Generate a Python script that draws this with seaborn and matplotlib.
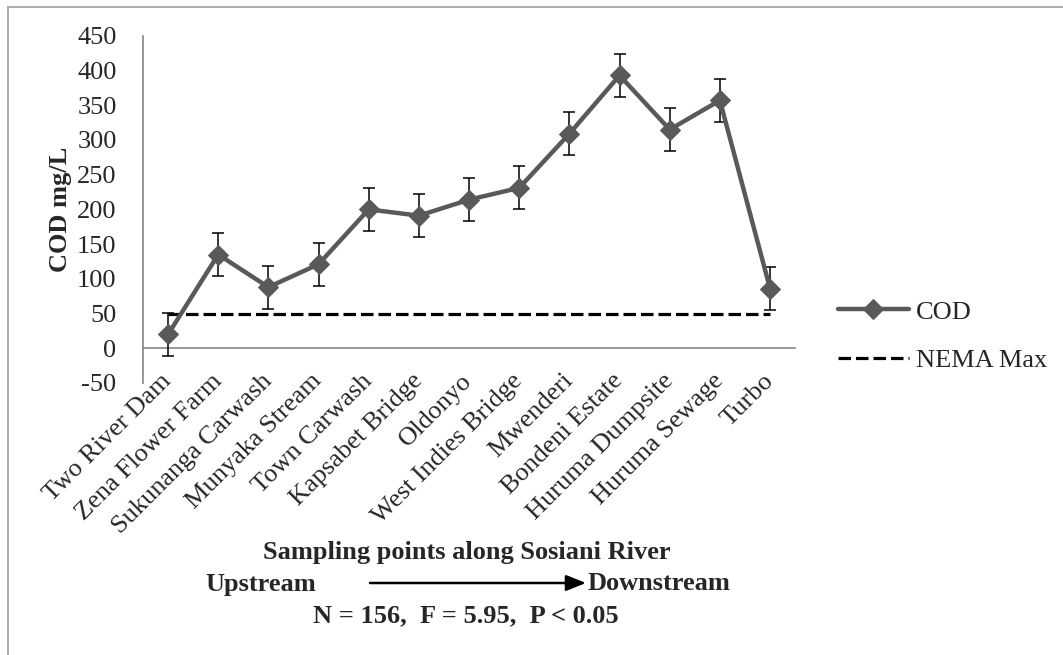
import matplotlib
matplotlib.use("Agg")
import matplotlib.pyplot as plt
from matplotlib.lines import Line2D
from matplotlib.patches import FancyArrowPatch
import numpy as np
import pandas as pd
import seaborn as sns

sites = ["Two River Dam", "Zena Flower Farm", "Sukunanga Carwash", "Munyaka Stream",
         "Town Carwash", "Kapsabet Bridge", "Oldonyo", "West Indies Bridge",
         "Mwenderi", "Bondeni Estate", "Huruma Dumpsite", "Huruma Sewage", "Turbo"]
cod = [20, 135, 88, 121, 200, 191, 214, 231, 309, 393, 315, 357, 86]
cod_err = [31, 31, 31, 31, 31, 31, 31, 31, 31, 31, 31, 31, 31]
nema_max = [50] * len(sites)
y_ticks = [-50, 0, 50, 100, 150, 200, 250, 300, 350, 400, 450]

sns.set_theme(style="white")
plt.rcParams["font.family"] = ["Liberation Serif", "DejaVu Serif"]
plt.rcParams["lines.scale_dashes"] = False

df = pd.DataFrame({"pos": np.arange(len(sites)), "site": sites,
                   "COD": cod, "err": cod_err, "NEMA Max": nema_max})

fig = plt.figure(figsize=(10.63, 6.55), dpi=100)
ax = fig.add_axes([0.1345, 0.4153, 0.6135, 0.530])

line_col = "#595959"
axis_col = "#868686"
FS = 19

sns.lineplot(data=df, x="pos", y="NEMA Max", ax=ax, color="black", lw=2.3,
             dashes=False, label="NEMA Max", zorder=2)
ax.lines[-1].set_dashes((9, 3.6))
ax.errorbar(df["pos"], df["COD"], yerr=df["err"], fmt="none", ecolor="black",
            elinewidth=1.1, capsize=4, capthick=1.1, zorder=3)
sns.lineplot(data=df, x="pos", y="COD", ax=ax, color=line_col, lw=3.2,
             marker="D", markersize=10, markeredgecolor=line_col, label="COD", zorder=4)

# spines first: moving a spine resets the axis ticks
for s in ("top", "right"):
    ax.spines[s].set_visible(False)
ax.spines["bottom"].set_position(("data", 0))
for s in ("left", "bottom"):
    ax.spines[s].set_color(axis_col)
    ax.spines[s].set_linewidth(1.2)

ax.set_xlim(-0.5, len(sites) - 0.5)
ax.set_ylim(-50, 450)
ax.set_yticks(y_ticks)
ax.set_yticklabels([str(v) for v in y_ticks], fontsize=FS)

ax.set_xticks(df["pos"])
ax.set_xticklabels(sites, fontsize=FS, rotation=45, ha="right", va="center",
                   rotation_mode="anchor")
ax.set_xticks(np.arange(len(sites) + 1) - 0.5, minor=True)
ax.tick_params(axis="x", which="major", length=0, pad=21)
ax.tick_params(axis="x", which="minor", length=8, width=1.2, color=axis_col, direction="out")
ax.tick_params(axis="y", length=8, width=1.2, color=axis_col, direction="out", pad=11)

ax.set_xlabel("")
ax.set_ylabel("COD mg/L", fontsize=FS, fontweight="bold", labelpad=4)

handles, labels = ax.get_legend_handles_labels()
order = [labels.index("COD"), labels.index("NEMA Max")]
ax.legend([handles[i] for i in order], [labels[i] for i in order],
          loc="center left", bbox_to_anchor=(1.045, 0.135), frameon=False,
          fontsize=FS, handlelength=2.7, handletextpad=0.25, labelspacing=0.95,
          borderpad=0)

fig.text(467 / 1063, 1 - 552 / 655, "Sampling points along Sosiani River", ha="center",
         va="center", fontsize=FS, fontweight="bold")
fig.text(205 / 1063, 1 - 584 / 655, "Upstream", ha="left", va="center",
         fontsize=FS, fontweight="bold")
fig.text(588 / 1063, 1 - 584 / 655, "Downstream", ha="left", va="center",
         fontsize=FS, fontweight="bold")
fig.text(466 / 1063, 1 - 616 / 655, "N = 156,  F = 5.95,  P < 0.05", ha="center",
         va="center", fontsize=FS, fontweight="bold")
fig.add_artist(FancyArrowPatch(
    (370 / 1063, 1 - 583 / 655), (586 / 1063, 1 - 583 / 655),
    transform=fig.transFigure, arrowstyle="-|>,head_length=1.0,head_width=0.4",
    color="black", lw=1.8, mutation_scale=12, shrinkA=0, shrinkB=0))

# frame lines along the top and left of the figure
fig.add_artist(Line2D([8 / 1063, 8 / 1063], [0, 1 - 7 / 655], transform=fig.transFigure,
                      color="#a6a6a6", lw=1.3))
fig.add_artist(Line2D([8 / 1063, 1], [1 - 7 / 655, 1 - 7 / 655], transform=fig.transFigure,
                      color="#a6a6a6", lw=1.3))

fig.savefig("out.png", dpi=100)
